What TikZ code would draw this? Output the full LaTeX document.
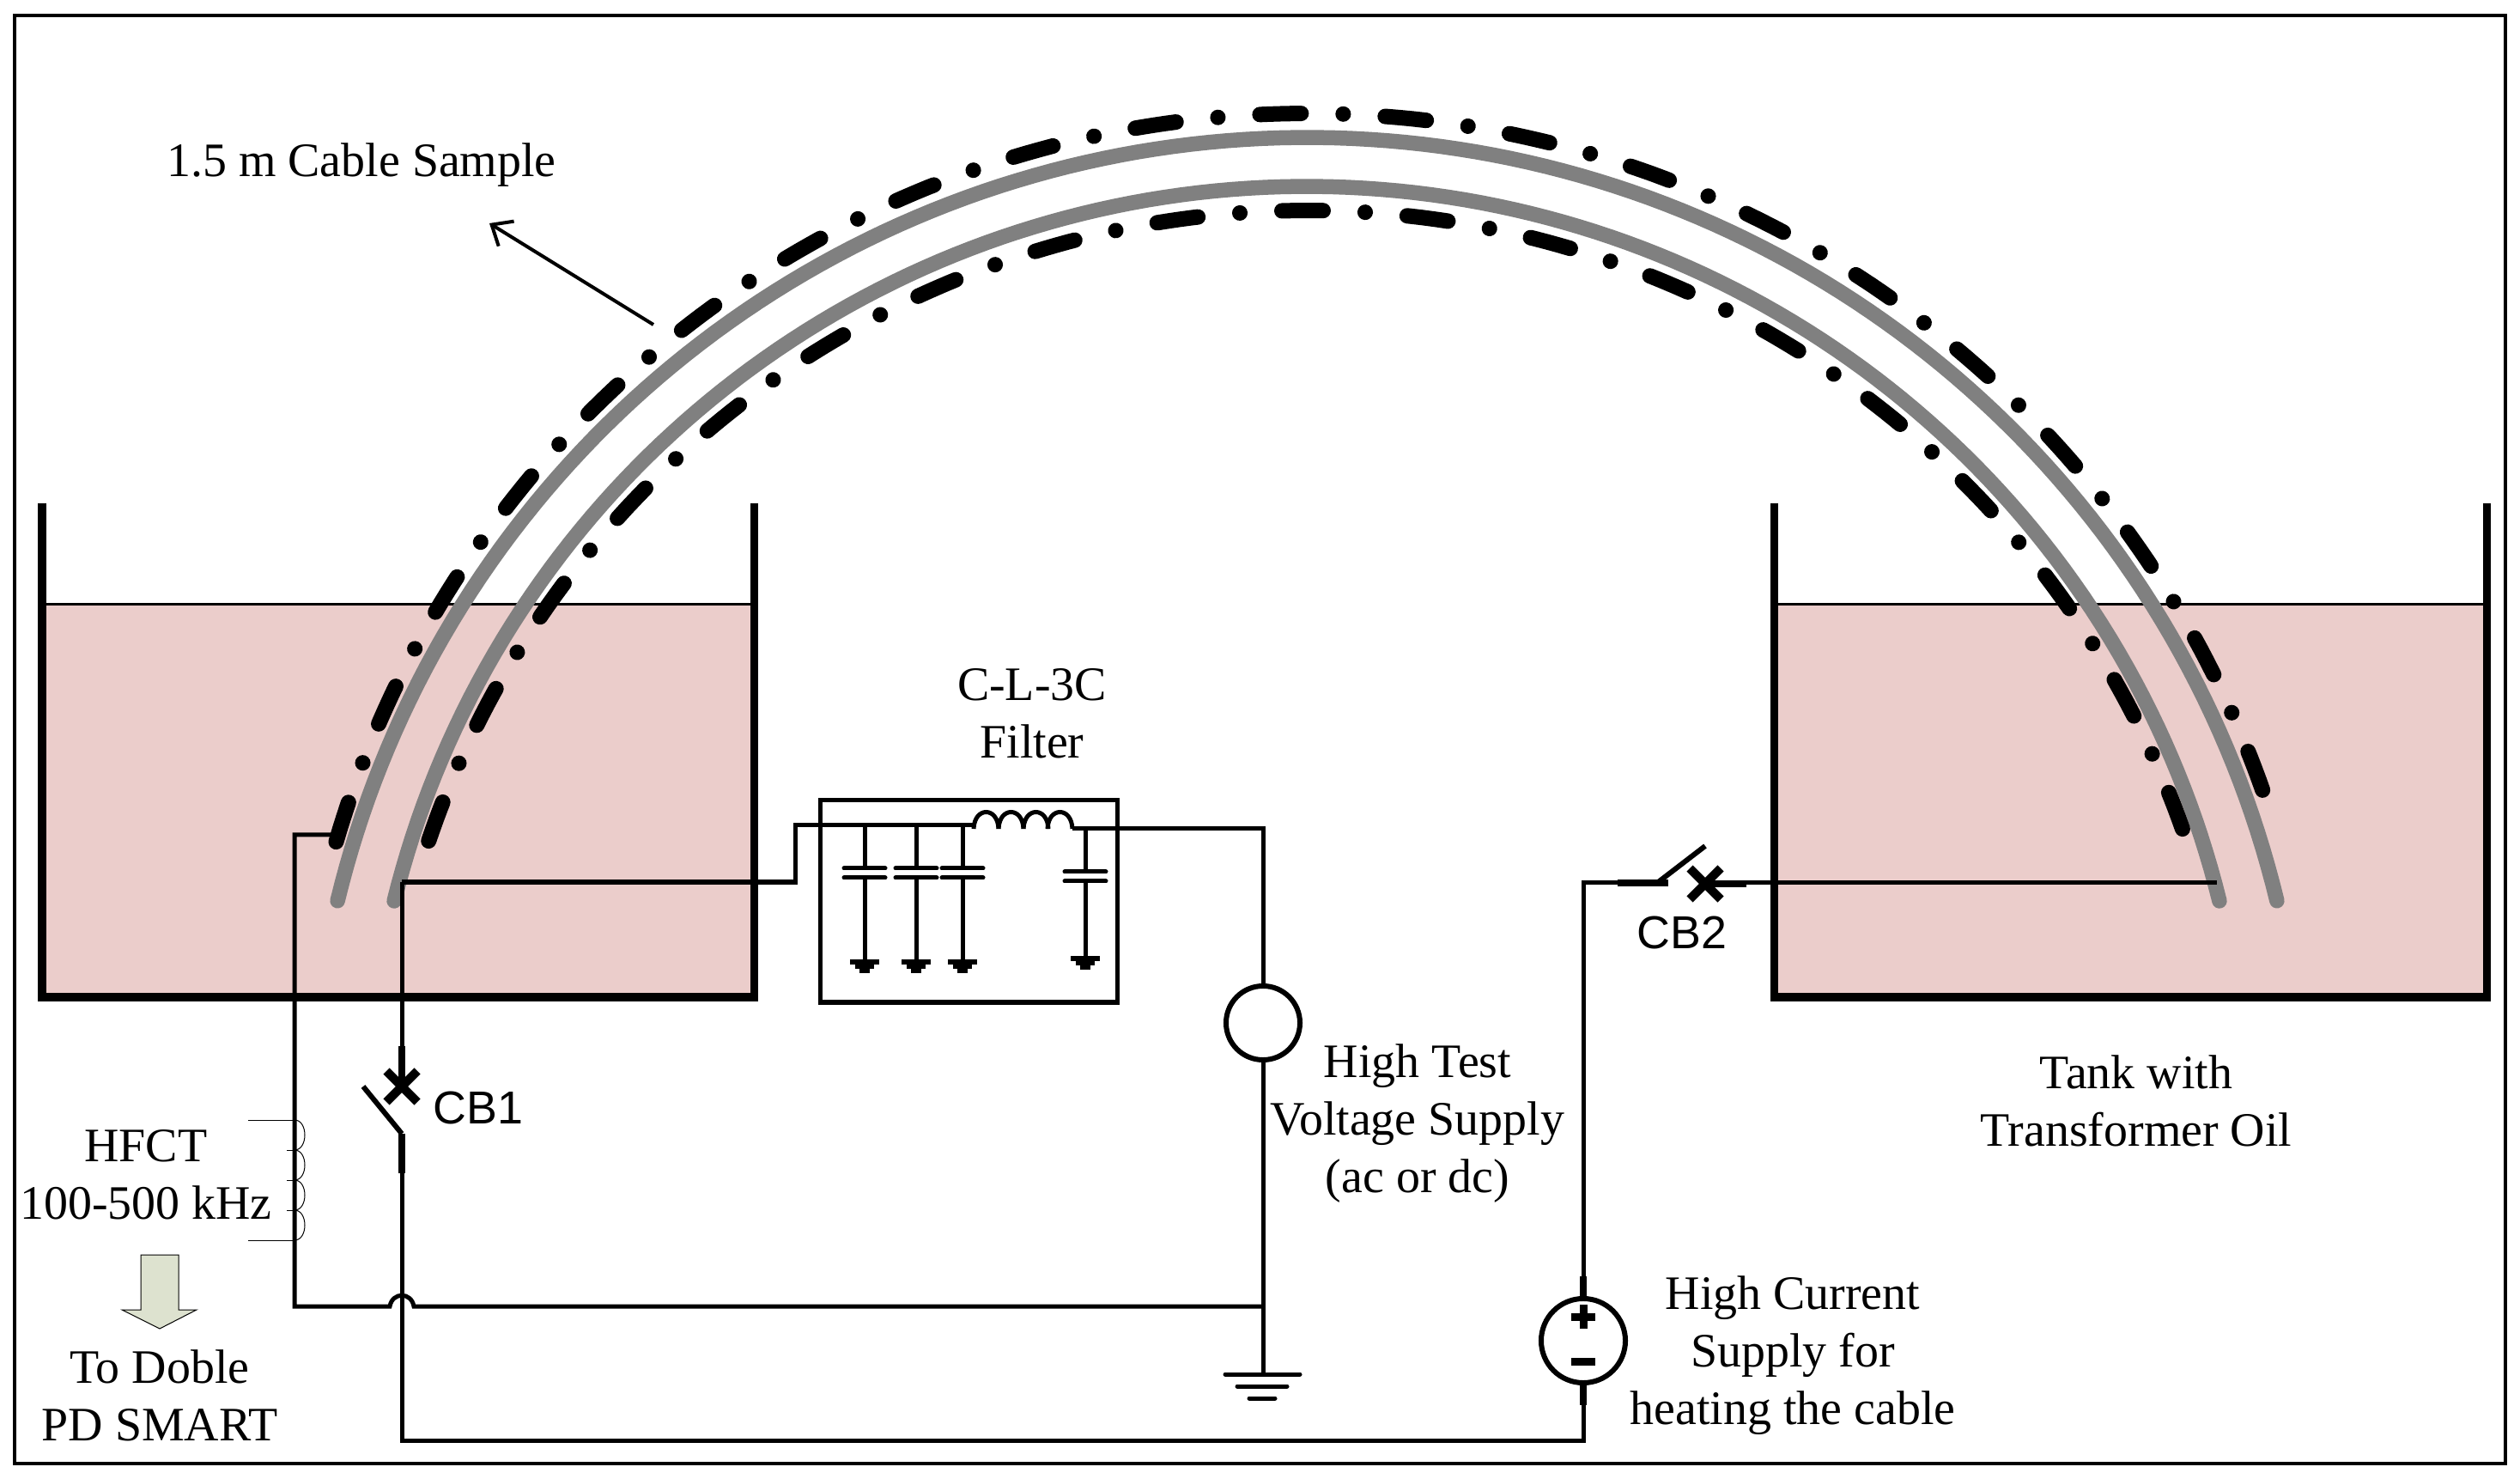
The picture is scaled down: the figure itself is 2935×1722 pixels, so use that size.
\documentclass[tikz,border=0pt]{standalone}
\usepackage{fontspec}
\setmainfont{Liberation Serif}
\setsansfont{Liberation Sans}
\usetikzlibrary{arrows.meta}
\definecolor{oilpink}{RGB}{235,205,203}
\definecolor{cablegray}{RGB}{128,128,128}
\definecolor{blockgreen}{RGB}{221,226,207}
\tikzset{
    wire/.style={line width=0.5mm},
    lead/.style={line width=0.75mm},
    wall/.style={line width=0.9mm},
    cable/.style={cablegray, line width=1.75mm, line cap=round, samples=150, variable=\t},
    shield/.style={black, line width=1.8mm, line cap=round, samples=200, variable=\t,
        dash pattern=on 4.8mm off 4.895mm on 0.01mm off 4.895mm},
    label/.style={font=\fontsize{15.9}{19}\selectfont, align=center, inner sep=0pt},
    cblabel/.style={font=\sffamily\fontsize{15.3}{17}\selectfont, inner sep=0pt},
    source/.style={circle, draw, line width=0.6mm, inner sep=0pt}
}
\begin{document}
\begin{tikzpicture}[x=0.01cm, y=-0.01cm]
    \useasboundingbox (0,0) rectangle (2935,1722);
    \draw[line width=0.45mm] (17,18) rectangle (2918,1704);

    % tanks
    \fill[oilpink] (49,704) rectangle (878,1161);
    \fill[oilpink] (2066,704) rectangle (2896,1161);
    \draw[line width=0.3mm] (49,704) -- (878,704);
    \draw[line width=0.3mm] (2066,704) -- (2896,704);
    \draw[wall] (49,586) -- (49,1161) -- (878,1161) -- (878,586);
    \draw[wall] (2066,586) -- (2066,1161) -- (2896,1161) -- (2896,586);

    % cable sample
    \draw[cable, domain=166.4:13.6] plot ({1522.5+1162*cos(\t)},{1322-1162*sin(\t)});
    \draw[cable, domain=166.1:13.9] plot ({1522+1095*cos(\t)},{1312-1095*sin(\t)});
    \draw[shield, domain=163.7:17.0] plot ({1523+1179*cos(\t)},{1311-1179*sin(\t)});
    \draw[shield, domain=161.28:19.5] plot ({1523+1081*cos(\t)},{1326-1081*sin(\t)});
    \draw[->, >={Straight Barb[length=2mm, width=3.4mm]}, line width=0.4mm] (761,378) -- (570,260);

    % named points of the circuit
    \coordinate (shieldend) at (390,972);
    \coordinate (coreleft) at (468,1027);
    \coordinate (coreright) at (2582,1028);
    \node[source, minimum size=8.6cm/10] (hvsource) at (1471,1191) {};
    \node[source, minimum size=9.8cm/10] (hcsource) at (1844,1561) {};
    \coordinate (gnd) at (1471,1600);

    % shield to ground, over the hop
    \draw[wire] (shieldend) -- (343,972) -- (343,1521) -- (454,1521)
        .. controls (457,1504) and (479,1504) .. (482,1521) -- (1471,1521);
    \draw[wire] (hvsource.south) -- (gnd);
    \draw[wire, line cap=round] (1427,1600) -- (1514,1600);
    \draw[wire, line cap=round] (1441,1614) -- (1499,1614);
    \draw[wire, line cap=round] (1455,1628) -- (1485,1628);

    % CB1 and the heating loop
    \draw[wire] (coreleft) -- (468,1218);
    \draw[lead] (468,1218) -- (468,1265);
    \draw[line width=1mm] (450,1247) -- (486,1283) (450,1283) -- (486,1247);
    \draw[line width=0.6mm] (423,1265) -- (468,1320);
    \draw[lead] (468,1320) -- (468,1366);
    \draw[wire] (468,1366) -- (468,1677) -- (1844,1677) -- (hcsource.south);
    \draw[lead] (1844,1610) -- (1844,1636);
    \draw[wire] (hcsource.north) -- (1844,1028) -- (1884,1028);
    \draw[lead] (1844,1486) -- (hcsource.north);
    \draw[line width=0.9mm] (1830,1533) -- (1858,1533) (1844,1519) -- (1844,1547);
    \draw[line width=0.9mm] (1830,1585) -- (1858,1585);

    % CB2
    \draw[lead] (1884,1028) -- (1943,1028);
    \draw[line width=0.6mm] (1930,1028) -- (1986,985);
    \draw[line width=1mm] (1968,1011) -- (2004,1047) (1968,1047) -- (2004,1011);
    \draw[lead] (1986,1029) -- (2034,1029);
    \draw[wire] (2034,1028) -- (coreright);

    % filter
    \draw[wire] (955,932) rectangle (1301,1167);
    \draw[wire] (coreleft) -- (926,1027) -- (926,961) -- (1133,961);
    \foreach \x in {1134,1163,1192,1220}
        \draw[wire] (\x,965) .. controls (\x+1,939) and (\x+28,939) .. (\x+29,965);
    \draw[wire] (1249,965) -- (1471,965) -- (hvsource.north);
    \foreach \cx/\cy/\ty/\gy in {1007/1011/961/1118, 1067/1011/961/1118, 1121/1011/961/1118, 1264/1015/965/1114} {
        \draw[wire] (\cx,\ty) -- (\cx,\cy);
        \draw[wire, line cap=round] (\cx-24,\cy) -- (\cx+24,\cy);
        \draw[wire, line cap=round] (\cx-24,\cy+11) -- (\cx+24,\cy+11);
        \draw[wire] (\cx,\cy+11) -- (\cx,\gy);
        \draw[wire] (\cx-17,\gy+2) -- (\cx+17,\gy+2);
        \draw[wire] (\cx-11,\gy+7) -- (\cx+11,\gy+7);
        \draw[wire] (\cx-6,\gy+12) -- (\cx+6,\gy+12);
    }

    % HFCT
    \draw[line width=0.1mm] (289,1304) -- (343,1304);
    \draw[line width=0.1mm] (289,1444) -- (343,1444);
    \foreach \y/\ynext in {1304/1339, 1339/1374, 1374/1409, 1409/1444} {
        \draw[line width=0.1mm] (343,\y) .. controls (359,\y) and (359,\ynext) .. (343,\ynext);
        \draw[line width=0.1mm] (334,\ynext) -- (343,\ynext);
    }
    \draw[line width=0.1mm, draw=black, fill=blockgreen] (164,1461) -- (208,1461) -- (208,1525)
        -- (229,1525) -- (186,1547) -- (142,1525) -- (164,1525) -- cycle;

    % labels
    \node[label] (samplelabel) at (421,192) {1.5 m Cable Sample};
    \node[label] (filterlabel) at (1202,831) {C-L-3C\\Filter};
    \node[label] (hvlabel) at (1651,1308) {High Test\\Voltage Supply\\(ac or dc)};
    \node[label] (tanklabel) at (2488,1282) {Tank with\\Transformer Oil};
    \node[label] (hfctlabel) at (170,1368) {HFCT\\100-500 kHz};
    \node[label] (doblelabel) at (186,1625) {To Doble\\PD SMART};
    \node[label] (hclabel) at (2088,1578) {High Current\\Supply for\\heating the cable};
    \node[cblabel] (cbone) at (557,1290) {CB1};
    \node[cblabel] (cbtwo) at (1959,1086) {CB2};
\end{tikzpicture}
\end{document}
